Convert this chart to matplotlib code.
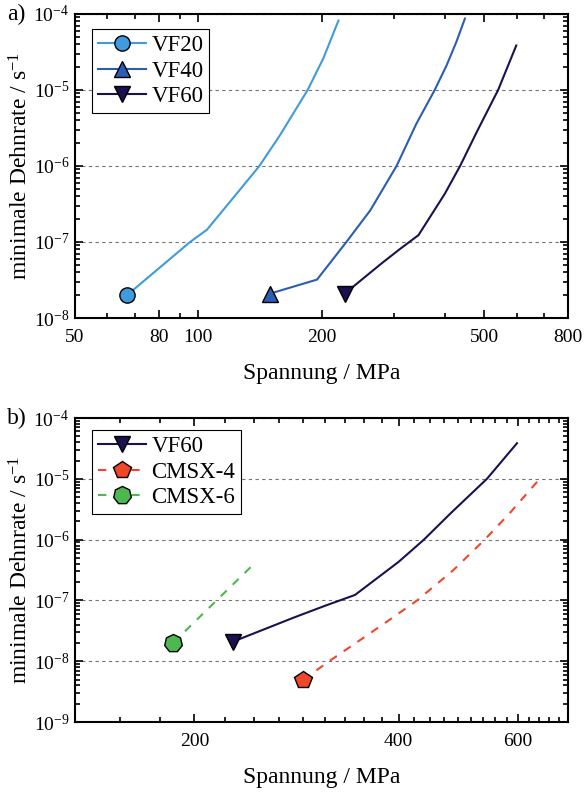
import numpy as np
import matplotlib
matplotlib.use('Agg')
import matplotlib.pyplot as plt
from matplotlib.ticker import FixedLocator, MultipleLocator, LogLocator, NullFormatter, FuncFormatter

plt.rcParams['font.family'] = ['Liberation Serif', 'DejaVu Serif']
plt.rcParams['mathtext.fontset'] = 'custom'
plt.rcParams['mathtext.rm'] = 'Liberation Serif'
plt.rcParams['mathtext.it'] = 'Liberation Serif:italic'

# Werte (Spannung in MPa, minimale Dehnrate in 1/s)
vf20_x = [67, 95.5, 105, 124, 141, 158, 185, 202, 220]
vf20_y = [2e-8, 1e-7, 1.45e-7, 4.3e-7, 1e-6, 2.5e-6, 1e-5, 2.6e-5, 8.2e-5]

vf40_x = [150, 195, 230, 263, 305, 341, 378, 404, 427, 448]
vf40_y = [2.1e-8, 3.2e-8, 1e-7, 2.6e-7, 1e-6, 3.6e-6, 1e-5, 2.1e-5, 4.3e-5, 8.7e-5]

vf60_x = [228, 280, 311, 345, 400, 436, 478, 540, 598]
vf60_y = [2.1e-8, 5.2e-8, 8.1e-8, 1.23e-7, 4.3e-7, 1e-6, 2.75e-6, 1e-5, 3.85e-5]

cmsx4_x = [289, 316, 360, 391, 426, 481, 536, 583, 646]
cmsx4_y = [4.9e-9, 1e-8, 2.7e-8, 5.1e-8, 1e-7, 3.1e-7, 1e-6, 2.7e-6, 1e-5]

cmsx6_x = [186, 246]
cmsx6_y = [2e-8, 4.2e-7]

c_vf20 = '#3f9bdb'
c_vf40 = '#2a5db3'
c_vf60 = '#1a1150'
c_cmsx4 = '#f0472a'
c_cmsx6 = '#4db84f'

fs_tick = 14
fs_label = 17
fs_leg = 16.5

def ylab(v, pos):
    return r'$\mathregular{10^{%d}}$' % int(round(np.log10(v)))

def style_axis(ax):
    for s in ax.spines.values():
        s.set_linewidth(1.5)
    ax.tick_params(which='both', direction='in', top=True, right=True, width=1.2)
    ax.tick_params(which='major', length=6)
    ax.tick_params(which='minor', length=3.5)
    ax.tick_params(axis='x', which='major', pad=8, labelsize=fs_tick)
    ax.tick_params(axis='y', which='major', pad=4, labelsize=fs_tick)
    ax.yaxis.set_major_locator(LogLocator(base=10, numticks=20))
    ax.yaxis.set_minor_locator(LogLocator(base=10, subs=np.arange(2, 10), numticks=20))
    ax.yaxis.set_major_formatter(FuncFormatter(ylab))
    ax.yaxis.set_minor_formatter(NullFormatter())
    ax.yaxis.grid(True, which='major', linestyle=(0, (3, 3)), color='0.45', linewidth=0.8)
    ax.set_axisbelow(True)
    ax.set_xlabel('Spannung / MPa', fontsize=fs_label, labelpad=12)
    ax.set_ylabel(r'minimale Dehnrate / s$^{-1}$', fontsize=fs_label, labelpad=1)

def add_legend(ax, y0):
    leg = ax.legend(loc='upper left', bbox_to_anchor=(0.034, y0), fontsize=fs_leg,
                    frameon=True, fancybox=False, edgecolor='k', framealpha=1,
                    handlelength=2.1, borderpad=0.25, labelspacing=0.2, handletextpad=0.25,
                    borderaxespad=0)
    leg.get_frame().set_linewidth(0.8)
    return leg

fig = plt.figure(figsize=(5.88, 7.95), dpi=100)

# a) Volumenanteile
ax1 = fig.add_axes([0.1276, 0.6, 0.8384, 0.3824])
ax1.set_xscale('log')
ax1.set_yscale('log')
ax1.plot(vf20_x, vf20_y, '-', color=c_vf20, lw=1.5, marker='o', markevery=[0],
         ms=11, mfc=c_vf20, mec='k', mew=1.0, label='VF20')
ax1.plot(vf40_x, vf40_y, '-', color=c_vf40, lw=1.5, marker='^', markevery=[0],
         ms=12, mfc=c_vf40, mec='k', mew=1.0, label='VF40')
ax1.plot(vf60_x, vf60_y, '-', color=c_vf60, lw=1.5, marker='v', markevery=[0],
         ms=12, mfc=c_vf60, mec='k', mew=1.0, label='VF60')
ax1.set_xlim(50, 800)
ax1.set_ylim(1e-8, 1e-4)
style_axis(ax1)
ax1.xaxis.set_major_locator(FixedLocator([50, 80, 100, 200, 500, 800]))
ax1.xaxis.set_major_formatter(FuncFormatter(lambda v, p: '%d' % v))
ax1.xaxis.set_minor_locator(LogLocator(base=10, subs=np.arange(2, 10), numticks=20))
ax1.xaxis.set_minor_formatter(NullFormatter())
add_legend(ax1, 0.95)
fig.text(0.012, 0.982, 'a)', fontsize=fs_label, va='center')

# b) Vergleich mit CMSX-4 und CMSX-6
ax2 = fig.add_axes([0.1276, 0.0918, 0.8384, 0.3824])
ax2.set_xscale('log')
ax2.set_yscale('log')
ax2.plot(vf60_x, vf60_y, '-', color=c_vf60, lw=1.5, marker='v', markevery=[0],
         ms=12, mfc=c_vf60, mec='k', mew=1.0, label='VF60')
ax2.plot(cmsx4_x, cmsx4_y, color=c_cmsx4, lw=1.5, ls=(0, (4, 4)), marker='p', markevery=[0],
         ms=13, mfc=c_cmsx4, mec='k', mew=1.0, label='CMSX-4')
ax2.plot(cmsx6_x, cmsx6_y, color=c_cmsx6, lw=1.5, ls=(0, (4, 4)), marker=(7, 0, 0), markevery=[0],
         ms=13, mfc=c_cmsx6, mec='k', mew=1.0, label='CMSX-6')
ax2.set_xlim(200 * 6 / 9, 200 * 32 / 9)
ax2.set_ylim(1e-9, 1e-4)
style_axis(ax2)
ax2.xaxis.set_major_locator(FixedLocator([200, 400, 600]))
ax2.xaxis.set_major_formatter(FuncFormatter(lambda v, p: '%d' % v))
ax2.xaxis.set_minor_locator(MultipleLocator(200 / 9))
ax2.xaxis.set_minor_formatter(NullFormatter())
add_legend(ax2, 0.96)
fig.text(0.012, 0.474, 'b)', fontsize=fs_label, va='center')

fig.savefig('out.png', dpi=100)
